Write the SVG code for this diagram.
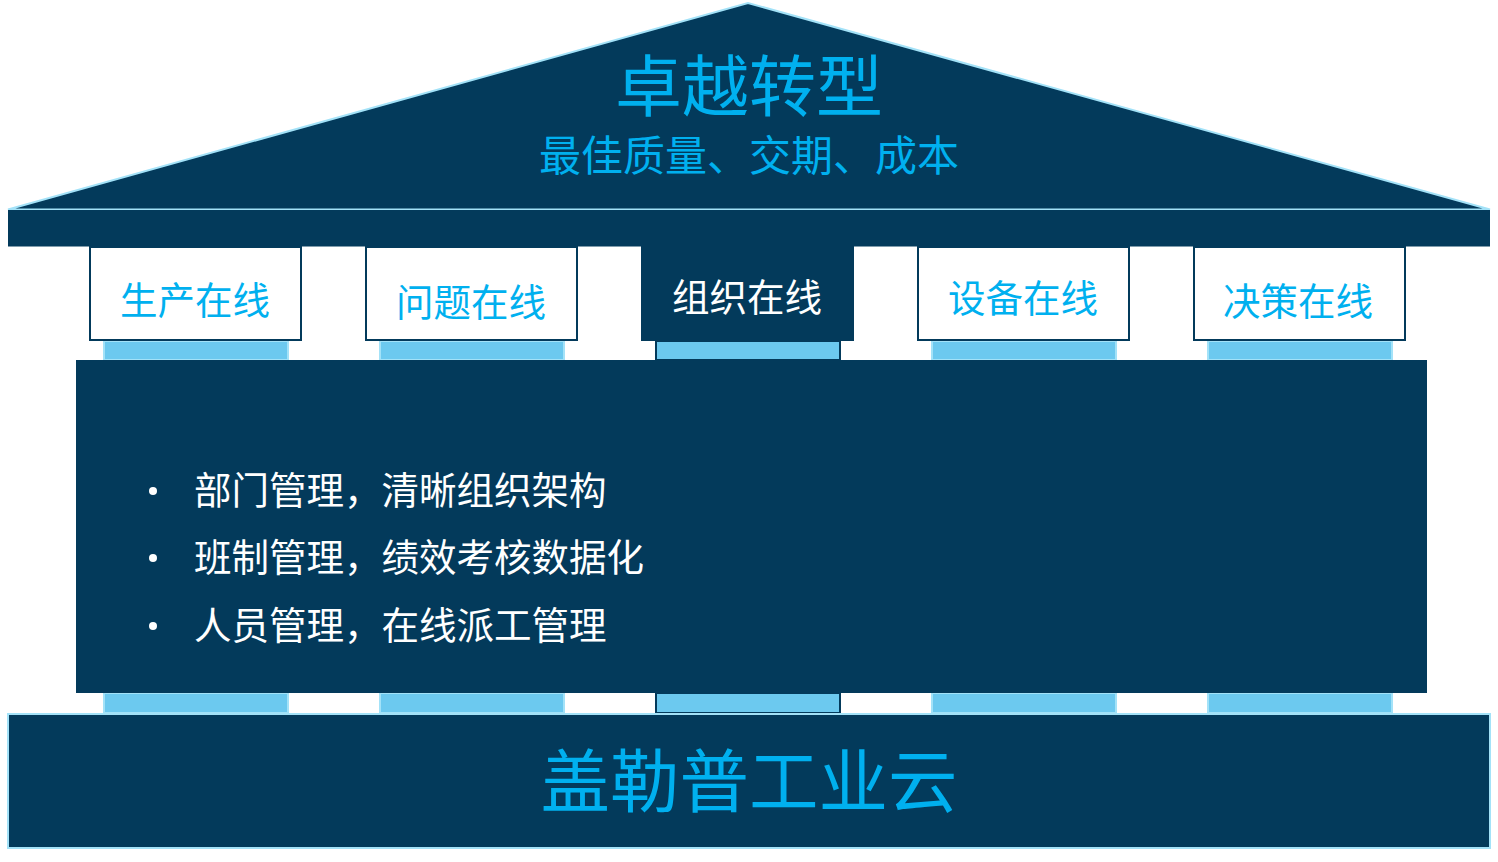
<svg xmlns="http://www.w3.org/2000/svg" width="1498" height="862" viewBox="0 0 1498 862">
<style>
.dark{fill:#033a5b}
.col{fill:#6cc9ef;stroke:#a3e2f8;stroke-width:2}
.colc{fill:#6cc9ef;stroke:#033a5b;stroke-width:2}
.cap{fill:#ffffff;stroke:#033a5b;stroke-width:2}
.capc{fill:#033a5b;stroke:#033a5b;stroke-width:2}
.t{font-family:"Microsoft YaHei","Noto Sans CJK SC",sans-serif;text-anchor:middle}
.cy{fill:#00b0ef}
.wh{fill:#ffffff}
.bl{font-family:"Microsoft YaHei","Noto Sans CJK SC",sans-serif;font-size:37.5px;fill:#ffffff}
</style>
<rect width="1498" height="862" fill="#ffffff"/>
<g id="roof">
<polygon points="8,209.5 748,3 1490,209.5" class="dark" stroke="#a3e2f8" stroke-width="2"/>
<text class="t cy" x="749" y="111" font-size="67">卓越转型</text>
<text class="t cy" x="749" y="171" font-size="42">最佳质量、交期、成本</text>
</g>
<g id="beam">
<rect x="8" y="210" width="1482" height="36.5" class="dark"/>
</g>
<g id="columns-top">
<rect x="104" y="341" width="184" height="19" class="col"/>
<rect x="380" y="341" width="184" height="19" class="col"/>
<rect x="656" y="341" width="184" height="19" class="colc"/>
<rect x="932" y="341" width="184" height="19" class="col"/>
<rect x="1208" y="341" width="184" height="19" class="col"/>
</g>
<g id="columns-bottom">
<rect x="104" y="693" width="184" height="20" class="col"/>
<rect x="380" y="693" width="184" height="20" class="col"/>
<rect x="656" y="693" width="184" height="20" class="colc"/>
<rect x="932" y="693" width="184" height="20" class="col"/>
<rect x="1208" y="693" width="184" height="20" class="col"/>
</g>
<g id="cap1"><rect x="90" y="247" width="211" height="93" class="cap"/><text class="t cy" x="195" y="314" font-size="37.5">生产在线</text></g>
<g id="cap2"><rect x="366" y="247" width="211" height="93" class="cap"/><text class="t cy" x="471" y="316" font-size="37.5">问题在线</text></g>
<g id="cap3"><rect x="642" y="247" width="211" height="93" class="capc"/><text class="t wh" x="747" y="311" font-size="37.5">组织在线</text></g>
<g id="cap4"><rect x="918" y="247" width="211" height="93" class="cap"/><text class="t cy" x="1023" y="312" font-size="37.5">设备在线</text></g>
<g id="cap5"><rect x="1194" y="247" width="211" height="93" class="cap"/><text class="t cy" x="1298" y="315" font-size="37.5">决策在线</text></g>
<g id="body">
<rect x="76" y="360" width="1351" height="333" class="dark"/>
<circle cx="153" cy="491" r="4" fill="#ffffff"/>
<circle cx="153" cy="558" r="4" fill="#ffffff"/>
<circle cx="153" cy="626" r="4" fill="#ffffff"/>
<text class="bl" x="194" y="504">部门管理，清晰组织架构</text>
<text class="bl" x="194" y="571">班制管理，绩效考核数据化</text>
<text class="bl" x="194" y="639">人员管理，在线派工管理</text>
</g>
<g id="foundation">
<rect x="8" y="714" width="1482" height="134" class="dark" stroke="#a3e2f8" stroke-width="2"/>
<text class="t cy" x="749" y="807" font-size="69.5">盖勒普工业云</text>
</g>
</svg>
